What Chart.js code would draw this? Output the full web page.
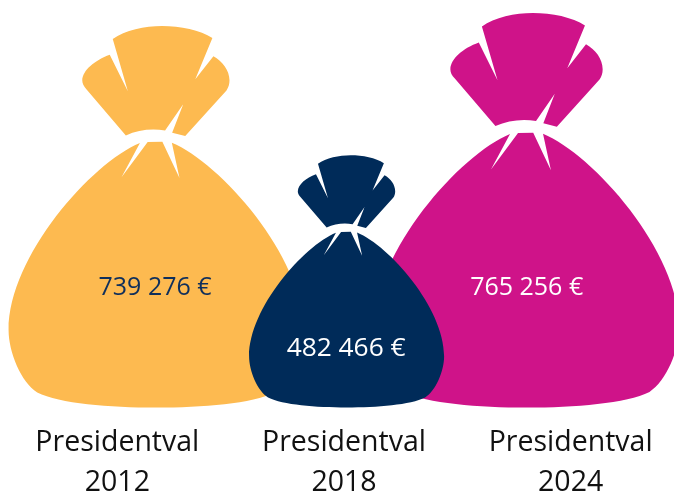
<!DOCTYPE html>
<html>
<head>
<meta charset="utf-8">
<style>html,body{margin:0;padding:0;background:#fff;overflow:hidden}#wrap{width:674px;height:495px;overflow:hidden}canvas{display:block}</style>
<script src="https://cdn.jsdelivr.net/npm/chart.js@4"></script>
</head>
<body>
<div id="wrap"><canvas id="c" width="684" height="495"></canvas></div>
<script>
const categories = [["Presidentval","2012"],["Presidentval","2018"],["Presidentval","2024"]];
const values = [739276, 482466, 765256];
const colors = ["#FDBA50", "#002B59", "#CF1389"];
const labelColors = ["#0F2F5B", "#FFFFFF", "#FFFFFF"];

// presentation settings (not data)
const bagShift = [38.7, 2.6, -44];
const labelShift = [-1, -0.5, 0];
const labelHeight = [0.3135, 0.2355, 0.3035];
const labelSize = [25, 26.3, 25];
const drawOrder = [0, 2, 1];
const SHAPE_H = 379, SHAPE_CX = 156, SHAPE_TOP = 28;

const bagPath = [
  ["M",113,41],["C",125,32,145,28,162,28],["C",180,28,200,32,212,40],["L",195,81],["L",213,58],
  ["C",222,63,229,72,229,82],["C",229,86,228,89,226,92],["L",185,137.3],["L",172,134],["L",183,105.7],["L",165,131.7],
  ["C",152,129.5,138,131,126,136.7],["L",87,91],["C",84,88,82.7,85,82.7,82],["C",83,72,95,62,110,56.5],["L",128,92.7],["Z"],
  ["M",140,144.3],["L",121.7,178.3],["L",147.7,143.3],["L",162.3,143],["L",179.3,179],["L",171.7,144],
  ["C",220,164,302.5,257,302.5,330],["C",302.5,352,290,382,274,392],
  ["C",252,403,202,407,156,407],["C",110,407,60,403,38,392],["C",22,382,9.5,352,9.5,330],
  ["C",9.5,257,92,164,140,144.3],["Z"]
];

function traceBag(ctx, cx, top, scale) {
  const X = v => cx + (v - SHAPE_CX) * scale;
  const Y = v => top + (v - SHAPE_TOP) * scale;
  ctx.beginPath();
  for (const s of bagPath) {
    if (s[0] === "M") ctx.moveTo(X(s[1]), Y(s[2]));
    else if (s[0] === "L") ctx.lineTo(X(s[1]), Y(s[2]));
    else if (s[0] === "C") ctx.bezierCurveTo(X(s[1]), Y(s[2]), X(s[3]), Y(s[4]), X(s[5]), Y(s[6]));
    else ctx.closePath();
  }
}
const fmt = v => String(v).replace(/\B(?=(\d{3})+$)/g, " ") + " €";

const bagPlugin = {
  id: "bags",
  beforeDatasetDraw(chart, args) {
    const ctx = chart.ctx;
    const els = chart.getDatasetMeta(args.index).data;
    ctx.save();
    for (const i of drawOrder) {
      const el = els[i];
      const h = el.base - el.y;
      ctx.fillStyle = el.options.backgroundColor;
      traceBag(ctx, el.x + bagShift[i], el.y, h / SHAPE_H);
      ctx.fill();
    }
    ctx.textAlign = "center";
    ctx.textBaseline = "middle";
    for (const i of drawOrder) {
      const el = els[i];
      ctx.font = labelSize[i] + "px 'Open Sans'";
      ctx.fillStyle = labelColors[i];
      ctx.fillText(fmt(values[i]), el.x + bagShift[i] + labelShift[i], el.base - (el.base - el.y) * labelHeight[i]);
    }
    ctx.restore();
    return false;
  }
};

new Chart(document.getElementById("c"), {
  type: "bar",
  data: {
    labels: categories,
    datasets: [{ data: values, backgroundColor: colors, base: -19000 }]
  },
  plugins: [bagPlugin],
  options: {
    responsive: false,
    animation: false,
    layout: { padding: { left: 4, right: 0, top: 0, bottom: 0 } },
    plugins: { legend: { display: false }, tooltip: { enabled: false }, title: { display: false } },
    scales: {
      x: {
        grid: { display: false },
        border: { display: false },
        afterFit: s => { s.height = 87.5; },
        ticks: {
          color: "#111111",
          font: { family: "Open Sans", size: 28.5, lineHeight: 1.38 },
          padding: 8,
          autoSkip: false,
          maxRotation: 0,
          minRotation: 0
        }
      },
      y: {
        display: false,
        min: -19000,
        max: 791000
      }
    }
  }
});
</script>
</body>
</html>
